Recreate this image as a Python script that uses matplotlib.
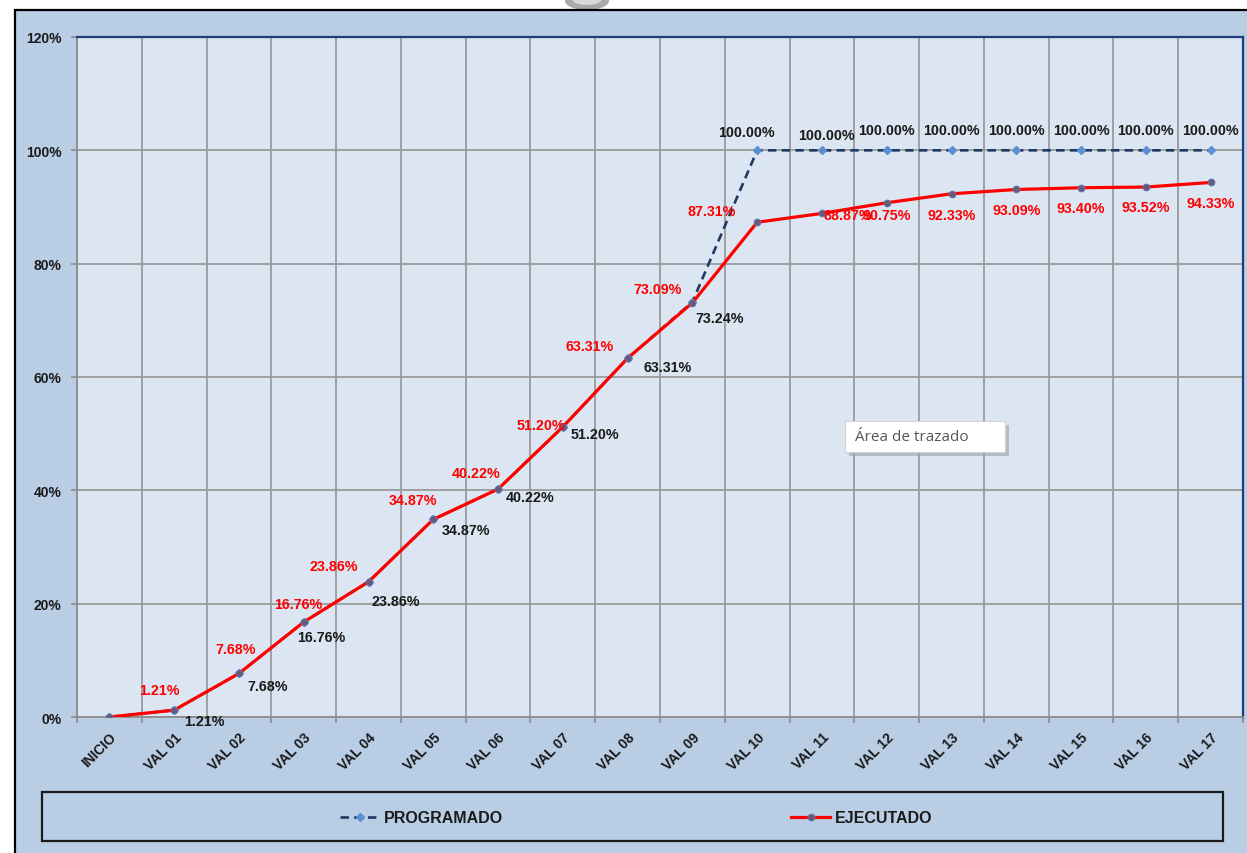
import matplotlib
matplotlib.use('Agg')
import matplotlib.pyplot as plt
from matplotlib.patches import Rectangle, Ellipse
from matplotlib.transforms import ScaledTranslation
import numpy as np

# ---------------- data ----------------
categories = ['INICIO', 'VAL 01', 'VAL 02', 'VAL 03', 'VAL 04', 'VAL 05', 'VAL 06',
              'VAL 07', 'VAL 08', 'VAL 09', 'VAL 10', 'VAL 11', 'VAL 12', 'VAL 13',
              'VAL 14', 'VAL 15', 'VAL 16', 'VAL 17']
programado = [0, 1.21, 7.68, 16.76, 23.86, 34.87, 40.22, 51.20, 63.31, 73.24,
              100.00, 100.00, 100.00, 100.00, 100.00, 100.00, 100.00, 100.00]
ejecutado = [0, 1.21, 7.68, 16.76, 23.86, 34.87, 40.22, 51.20, 63.31, 73.09,
             87.31, 88.87, 90.75, 92.33, 93.09, 93.40, 93.52, 94.33]
y_ticks = [0, 20, 40, 60, 80, 100, 120]
y_tick_labels = ['0%', '20%', '40%', '60%', '80%', '100%', '120%']
series_names = ['PROGRAMADO', 'EJECUTADO']

# label offsets (pixels: right, down) -- layout only
prog_off = [None, (30, 11), (29, 13), (18, 15), (27, 19), (33, 11), (32, 8), (32, 7),
            (40, 9), (27, 16), (-11, -18), (4, -15), (0, -20), (0, -20), (0, -20),
            (0, -20), (0, -20), (0, -20)]
exec_off = [None, (-15, -20), (-3, -24), (-5, -18), (-35, -16), (-20, -19), (-22, -16),
            (-22, -2), (-38, -12), (-35, -14), (-45, -11), (26, 2), (0, 12), (0, 21),
            (0, 21), (0, 20), (0, 20), (0, 21)]

W, H = 1247, 854
FONT = 'Liberation Sans'
plt.rcParams['font.family'] = [FONT, 'DejaVu Sans']

fig = plt.figure(figsize=(W / 100, H / 100), dpi=100, facecolor='white')

# chart area background with black border (left/top visible)
fig.add_artist(Rectangle((15 / W, -0.02), 1.2, 1 - 11 / H + 0.02, transform=fig.transFigure,
                         facecolor='#b9cde5', edgecolor='black', lw=1.6, zorder=-10))
fig.add_artist(Ellipse((587 / W, 1 - 2 / H), 44 / W, 18 / H, transform=fig.transFigure,
                       facecolor='#a9a9a9', edgecolor='none', zorder=-12))
fig.add_artist(Ellipse((587 / W, 1 - 0 / H), 30 / W, 12 / H, transform=fig.transFigure,
                       facecolor='#d8d8d8', edgecolor='none', zorder=-11))

ax = fig.add_axes([77 / W, 1 - 718 / H, (1243 - 77) / W, (718 - 38) / H])
ax.set_facecolor('#dce6f2')

x = np.arange(len(categories))
ax.set_xlim(-0.5, len(categories) - 0.5)
ax.set_ylim(0, 120)

# grid
ax.set_yticks(y_ticks)
ax.set_yticklabels(y_tick_labels, fontsize=10, fontweight='bold', color='#1a1a1a')
ax.set_xticks(x)
ax.set_xticklabels(categories, rotation=45, ha='right', va='top', rotation_mode='anchor',
                   fontsize=10, fontweight='bold', color='#1a1a1a')
shift = ScaledTranslation(-5 / 100, 0, fig.dpi_scale_trans)
for lab in ax.get_xticklabels():
    lab.set_transform(lab.get_transform() + shift)
ax.set_xticks(np.arange(-0.5, len(categories), 1.0), minor=True)
ax.grid(True, which='major', axis='y', color='#9a9a9a', lw=1.3)
ax.grid(True, which='minor', axis='x', color='#9a9a9a', lw=1.3)
ax.set_axisbelow(True)
ax.tick_params(axis='x', which='major', length=0, pad=9)
ax.tick_params(axis='x', which='minor', length=4, color='#8c8c8c', width=1.2, direction='out')
ax.tick_params(axis='y', which='major', length=4, color='#8c8c8c', width=1.2, pad=7)

for s in ['left', 'bottom']:
    ax.spines[s].set_color('#8c8c8c')
    ax.spines[s].set_linewidth(1.3)
for s in ['top', 'right']:
    ax.spines[s].set_color('#1f3d7a')
    ax.spines[s].set_linewidth(1.6)

# lines
lp, = ax.plot(x, programado, color='#1f3864', lw=1.9, dashes=(3.2, 2.0),
              marker='D', markersize=4.5, markerfacecolor='#5b8fd0',
              markeredgecolor='#5b8fd0', label=series_names[0], zorder=3)
le, = ax.plot(x, ejecutado, color='#ff0000', lw=2.3, marker='o', markersize=5,
              markerfacecolor='#6a5878', markeredgecolor='#5f7fb8', markeredgewidth=0.6,
              label=series_names[1], zorder=4)

# data labels
for i, v in enumerate(programado):
    if prog_off[i] is None:
        continue
    dx, dy = prog_off[i]
    ax.annotate(f'{v:.2f}%', (x[i], v), xytext=(dx * 0.72, -dy * 0.72),
                textcoords='offset points', ha='center', va='center',
                fontsize=10.3, fontweight='bold', color='#1a1a1a', zorder=6)
for i, v in enumerate(ejecutado):
    if exec_off[i] is None:
        continue
    dx, dy = exec_off[i]
    ax.annotate(f'{v:.2f}%', (x[i], v), xytext=(dx * 0.72, -dy * 0.72),
                textcoords='offset points', ha='center', va='center',
                fontsize=10.3, fontweight='bold', color='#ff0000', zorder=6)

# legend box
fig.add_artist(Rectangle((42 / W, 1 - 842 / H), (1223 - 42) / W, (842 - 793) / H,
                         transform=fig.transFigure, facecolor='none', edgecolor='#1a1a1a',
                         lw=1.6, zorder=2))
leg = fig.legend(handles=[lp, le], loc='center left',
                 bbox_to_anchor=(332 / W, 1 - 819 / H), ncol=2, frameon=False,
                 borderpad=0, handlelength=2.5, handletextpad=0.25, columnspacing=18.0,
                 prop={'family': FONT, 'size': 11.5, 'weight': 'bold'})
for t in leg.get_texts():
    t.set_color('#1a1a1a')

# "Área de trazado" tooltip
fig.add_artist(Rectangle((849 / W, 1 - 457 / H), 160 / W, 31 / H, transform=fig.transFigure,
                         facecolor='#9aa0a8', edgecolor='none', alpha=0.6, zorder=7))
fig.add_artist(Rectangle((845 / W, 1 - 453 / H), 160 / W, 31 / H, transform=fig.transFigure,
                         facecolor='white', edgecolor='#d4d4d4', lw=0.8, zorder=8))
fig.text(855 / W, 1 - 438 / H, 'Área de trazado', family=['Open Sans', 'DejaVu Sans'],
         fontsize=11, color='#555555', ha='left', va='center', zorder=9)

fig.savefig('out.png', dpi=100, facecolor=fig.get_facecolor())
